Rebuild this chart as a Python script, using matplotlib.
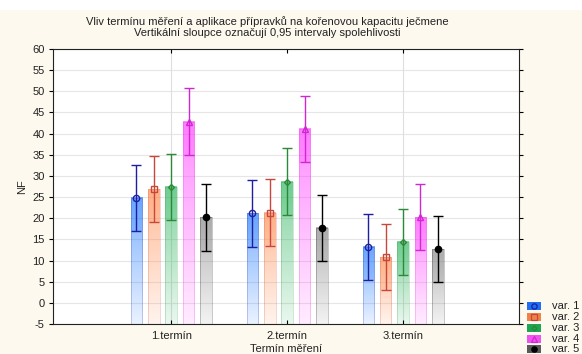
import numpy as np
import matplotlib
matplotlib.use("Agg")
import matplotlib.pyplot as plt
from matplotlib.patches import Rectangle
from matplotlib.lines import Line2D
from matplotlib.colors import to_rgb

plt.rcParams['font.family'] = ['Liberation Sans', 'DejaVu Sans']

# ---- data -------------------------------------------------------------
categories = ['1.termín', '2.termín', '3.termín']
series_names = ['var. 1', 'var. 2', 'var. 3', 'var. 4', 'var. 5']

var1_mean = [24.8, 21.2, 13.3]
var1_low = [16.9, 13.3, 5.4]
var1_high = [32.7, 29.0, 21.1]

var2_mean = [26.9, 21.3, 10.8]
var2_low = [19.0, 13.5, 3.1]
var2_high = [34.8, 29.2, 18.7]

var3_mean = [27.4, 28.6, 14.4]
var3_low = [19.5, 20.7, 6.6]
var3_high = [35.2, 36.5, 22.3]

var4_mean = [42.8, 41.2, 20.2]
var4_low = [34.9, 33.3, 12.4]
var4_high = [50.7, 49.0, 28.1]

var5_mean = [20.2, 17.7, 12.7]
var5_low = [12.3, 9.9, 4.9]
var5_high = [28.0, 25.6, 20.6]

yticks = list(range(-5, 61, 5))

means = [var1_mean, var2_mean, var3_mean, var4_mean, var5_mean]
lows = [var1_low, var2_low, var3_low, var4_low, var5_low]
highs = [var1_high, var2_high, var3_high, var4_high, var5_high]

# ---- styles -----------------------------------------------------------
bar_colors = ['#1e78ff', '#ff8a4c', '#28b45a', '#ff3cff', '#828282']
line_colors = ['#1e1ea0', '#c8463a', '#2a8a38', '#d028d0', '#000000']
legend_colors = ['#1f6ff0', '#f08248', '#1fa452', '#f052f0', '#5a5a5a']
markers = ['o', 's', 'D', '^', 'o']
marker_faces = ['none', 'none', 'none', 'none', '#000000']
marker_sizes = [4.5, 4.5, 3.0, 4.5, 4.5]
FS = 8

W, H = 582, 354
fig = plt.figure(figsize=(W / 100, H / 100), dpi=100)
fig.patch.set_facecolor('#fdf9ee')
fig.patches.append(Rectangle((0, 1 - 10 / H), 1, 10 / H, transform=fig.transFigure,
                             facecolor='white', edgecolor='none', zorder=0))

ax = fig.add_axes([53 / W, 1 - 324 / H, 466 / W, 275 / H])
ax.set_facecolor('white')
ymin, ymax = -5, 60
ax.set_xlim(-0.02, 4.0)
ax.set_ylim(ymin, ymax)

# grid
for yv in yticks:
    ax.axhline(yv, color='#e6e6e6', lw=0.8, zorder=0)
for xv in (1, 3):
    ax.axvline(xv, color='#dedede', lw=0.8, zorder=0)

x_pos = np.arange(1, len(categories) + 1)
spacing = 0.15
width = 0.1

for i in range(len(series_names)):
    rgb = np.array(to_rgb(bar_colors[i]))
    xs = x_pos + (i - 2) * spacing
    for j, xc in enumerate(xs):
        m, lo, hi = means[i][j], lows[i][j], highs[i][j]
        x0, x1 = xc - width / 2, xc + width / 2
        # vertical gradient from the bar top down to the baseline
        n = 64
        alpha = np.linspace(0.58, 0.10, n)[:, None]
        img = np.zeros((n, 2, 4))
        img[..., :3] = rgb
        img[..., 3] = alpha
        ax.imshow(img, extent=[x0, x1, ymin, m], origin='upper',
                  aspect='auto', interpolation='bilinear', zorder=1)
        # stronger band between the lower interval bound and the mean
        ax.add_patch(Rectangle((x0, lo), width, m - lo, facecolor=rgb,
                               alpha=0.2, edgecolor='none', zorder=1.5))
        ax.add_patch(Rectangle((x0, ymin), width, m - ymin, facecolor='none',
                               edgecolor=line_colors[i], lw=0.5, alpha=0.3, zorder=2))
    ax.errorbar(xs, means[i],
                yerr=[np.array(means[i]) - np.array(lows[i]),
                      np.array(highs[i]) - np.array(means[i])],
                fmt='none', ecolor=line_colors[i], elinewidth=1.0,
                capsize=3.8, capthick=1.0, zorder=3)
    ax.plot(xs, means[i], linestyle='none', marker=markers[i],
            markersize=marker_sizes[i], markerfacecolor=marker_faces[i],
            markeredgecolor=line_colors[i], markeredgewidth=1.0, zorder=4)

ax.set_xticks(x_pos)
ax.set_xticklabels(categories, fontsize=FS, color='#222222')
ax.set_yticks(yticks)
ax.set_yticklabels([str(v) for v in yticks], fontsize=FS, color='#222222')
ax.tick_params(axis='x', direction='in', top=True, bottom=True, length=3,
               width=0.8, pad=5)
ax.tick_params(axis='y', direction='out', left=True, right=True, length=3,
               width=0.8, pad=3)
for s in ax.spines.values():
    s.set_color('#222222')
    s.set_linewidth(0.8)

# titles and axis labels
fig.text(267 / W, 1 - 22 / H,
         'Vliv termínu měření a aplikace přípravků na kořenovou kapacitu ječmene',
         ha='center', va='center', fontsize=FS, color='#222222')
fig.text(267 / W, 1 - 33.5 / H,
         'Vertikální sloupce označují 0,95 intervaly spolehlivosti',
         ha='center', va='center', fontsize=FS, color='#222222')
fig.text(286 / W, 1 - 348.5 / H, 'Termín měření', ha='center', va='center',
         fontsize=FS, color='#222222')
fig.text(22 / W, 1 - 187 / H, 'NF', ha='center', va='center', rotation=90,
         fontsize=FS, color='#222222')

# legend
row_y = [306, 317, 328, 339, 349]
for i, name in enumerate(series_names):
    yc = row_y[i]
    fig.patches.append(Rectangle((527 / W, 1 - (yc + 4) / H), 14 / W, 8 / H,
                                 transform=fig.transFigure, facecolor=legend_colors[i],
                                 edgecolor='none', zorder=3))
    fig.add_artist(Line2D([534 / W], [1 - yc / H], transform=fig.transFigure,
                          marker=markers[i], markersize=marker_sizes[i] * 0.85,
                          markerfacecolor=marker_faces[i], markeredgecolor=line_colors[i],
                          markeredgewidth=0.9, linestyle='none', zorder=4))
    fig.text(552 / W, 1 - yc / H, name, ha='left', va='center', fontsize=FS,
             color='#222222')

fig.savefig('out.png', dpi=100, facecolor=fig.get_facecolor())
